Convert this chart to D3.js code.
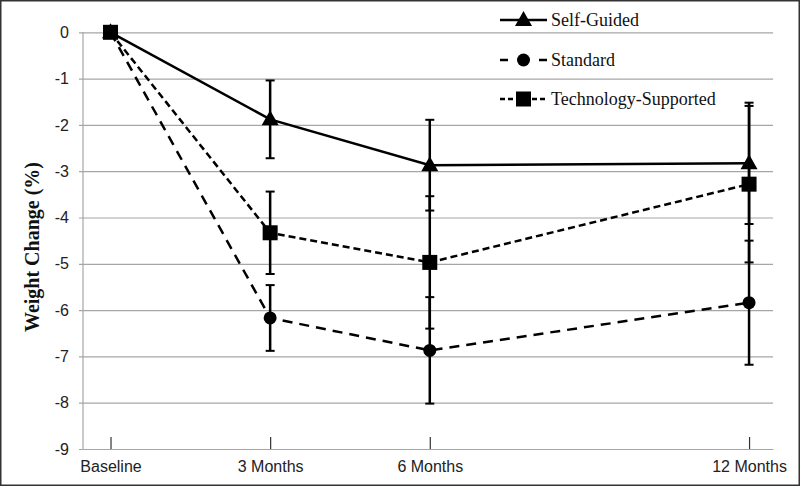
<!DOCTYPE html>
<html><head><meta charset="utf-8">
<script src="https://cdn.jsdelivr.net/npm/d3@7"></script>
<style>html,body{margin:0;padding:0;background:#fff;}svg{display:block;}</style>
</head><body><svg id="c" width="800" height="487"></svg>
<script>
const categories = ["Baseline", "3 Months", "6 Months", "12 Months"];
const months = [0, 3, 6, 12];
const selfGuided = [0, -1.88, -2.87, -2.83];
const selfGuidedErr = [0, 0.84, 0.98, 1.31];
const standard = [0, -6.17, -6.87, -5.84];
const standardErr = [0, 0.71, 1.15, 1.34];
const techSupported = [0, -4.33, -4.97, -3.28];
const techSupportedErr = [0, 0.89, 1.43, 1.69];
const yTicks = [0, -1, -2, -3, -4, -5, -6, -7, -8, -9];
const seriesNames = ["Self-Guided", "Standard", "Technology-Supported"];

const svg = d3.select("#c");
const x = d3.scaleLinear().domain([-0.517, 12.45]).range([83, 773]);
const y = d3.scaleLinear().domain([0, -9]).range([32.3, 449]);

// border
svg.append("rect").attr("x", 0.75).attr("y", 0.75).attr("width", 798.5).attr("height", 484.5)
  .attr("fill", "none").attr("stroke", "#333").attr("stroke-width", 1.5);

// gridlines
const yAxis = d3.axisLeft(y).tickValues(yTicks).tickSize(-(773 - 83)).tickSizeOuter(0).tickPadding(10).tickFormat(d => String(d));
const gy = svg.append("g").attr("transform", "translate(83,0)").call(yAxis);
gy.select(".domain").remove();
gy.selectAll(".tick line").attr("stroke", "#a6a6a6").attr("stroke-width", 1.2).attr("x1", -4);
gy.selectAll(".tick text").attr("font-family", "Liberation Sans, Arial, sans-serif").attr("font-size", 16).attr("fill", "#222").attr("x", -14);

// y axis line
svg.append("line").attr("x1", 83).attr("x2", 83).attr("y1", y(0)).attr("y2", y(-9)).attr("stroke", "#a6a6a6").attr("stroke-width", 1.2);

// x axis
const xAxis = d3.axisBottom(x).tickValues(months).tickSize(-12).tickSizeOuter(0).tickPadding(10)
  .tickFormat((d, i) => categories[i]);
const gx = svg.append("g").attr("transform", `translate(0,${y(-9)})`).call(xAxis);
gx.select(".domain").attr("stroke", "#a6a6a6").attr("stroke-width", 1.2);
gx.selectAll(".tick line").attr("stroke", "#333").attr("stroke-width", 1.2);
gx.selectAll(".tick text").attr("font-family", "Liberation Sans, Arial, sans-serif").attr("font-size", 16).attr("fill", "#222").attr("dy", "0.8em");

// y title
svg.append("text").attr("transform", "translate(39,247) rotate(-90)").attr("text-anchor", "middle")
  .attr("font-family", "Liberation Serif, Times New Roman, serif").attr("font-weight", "bold").attr("font-size", 20)
  .attr("fill", "#111").text("Weight Change (%)");

const series = [
  {name: seriesNames[1], vals: standard, err: standardErr, dash: "10,7", marker: "circle"},
  {name: seriesNames[0], vals: selfGuided, err: selfGuidedErr, dash: null, marker: "triangle"},
  {name: seriesNames[2], vals: techSupported, err: techSupportedErr, dash: "7,4", marker: "square"}
];

function drawMarker(g, type, cx, cy) {
  if (type === "circle") g.append("circle").attr("cx", cx).attr("cy", cy).attr("r", 6.5).attr("fill", "#000");
  else if (type === "square") g.append("rect").attr("x", cx - 7.5).attr("y", cy - 7.5).attr("width", 15).attr("height", 15).attr("fill", "#000");
  else g.append("path").attr("d", `M${cx},${cy - 9}L${cx + 8.5},${cy + 6}L${cx - 8.5},${cy + 6}Z`).attr("fill", "#000");
}

const line = d3.line().x(d => x(d[0])).y(d => y(d[1]));

// error bars
series.forEach(s => {
  const g = svg.append("g");
  months.forEach((m, i) => {
    if (s.err[i] <= 0) return;
    const cx = x(m), top = y(s.vals[i] + s.err[i]), bot = y(s.vals[i] - s.err[i]);
    g.append("line").attr("x1", cx).attr("x2", cx).attr("y1", top).attr("y2", bot).attr("stroke", "#000").attr("stroke-width", 2.5);
    [top, bot].forEach(yy => g.append("line").attr("x1", cx - 4.5).attr("x2", cx + 4.5).attr("y1", yy).attr("y2", yy).attr("stroke", "#000").attr("stroke-width", 2));
  });
});

// lines and markers
series.forEach(s => {
  const g = svg.append("g");
  const p = g.append("path").datum(months.map((m, i) => [m, s.vals[i]])).attr("d", line)
    .attr("fill", "none").attr("stroke", "#000").attr("stroke-width", 2.5);
  if (s.dash) p.attr("stroke-dasharray", s.dash);
  months.forEach((m, i) => drawMarker(g, s.marker, x(m), y(s.vals[i])));
});

// legend
const legendY = [20, 60, 99];
const legendOrder = [
  {name: seriesNames[0], dash: null, marker: "triangle"},
  {name: seriesNames[1], dash: "8,31,8", marker: "circle"},
  {name: seriesNames[2], dash: "5,3", marker: "square"}
];
legendOrder.forEach((s, i) => {
  const g = svg.append("g");
  const ly = legendY[i];
  const l = g.append("line").attr("x1", 500).attr("x2", 547).attr("y1", ly).attr("y2", ly).attr("stroke", "#000").attr("stroke-width", 2.5);
  if (s.dash) l.attr("stroke-dasharray", s.dash);
  drawMarker(g, s.marker, 523.5, ly);
  g.append("text").attr("x", 551).attr("y", ly).attr("dy", "0.35em")
    .attr("font-family", "Liberation Serif, Times New Roman, serif").attr("font-size", 18).attr("fill", "#111").text(s.name);
});
</script></body></html>
